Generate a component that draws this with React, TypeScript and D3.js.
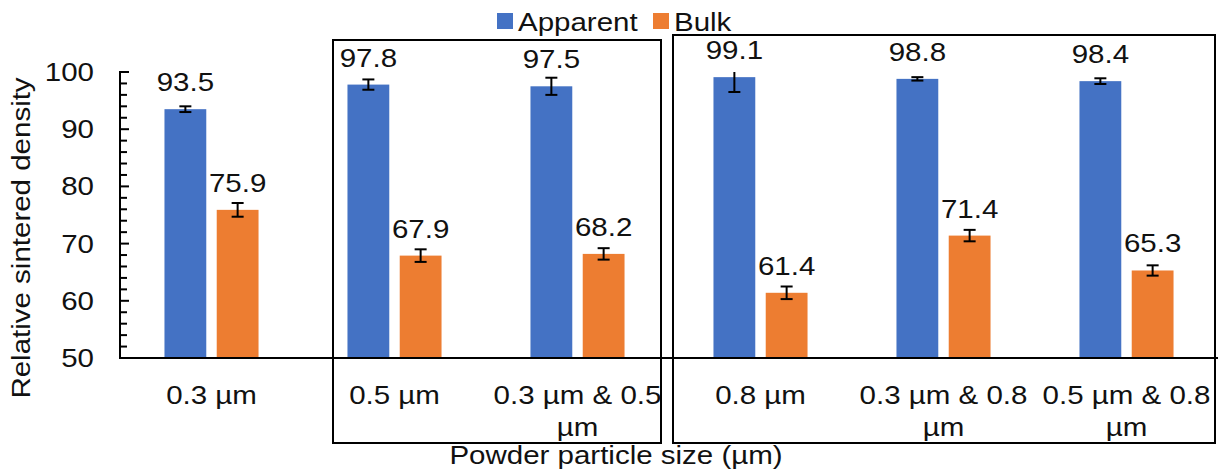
import React from "react";
import * as d3 from "d3";

const categories = ["0.3 µm", "0.5 µm", "0.3 µm & 0.5 µm", "0.8 µm", "0.3 µm & 0.8 µm", "0.5 µm & 0.8 µm"];
const seriesNames = ["Apparent", "Bulk"];
const apparent = [93.5, 97.8, 97.5, 99.1, 98.8, 98.4];
const apparentErr = [0.5, 0.9, 1.5, 2.6, 0.3, 0.5];
const bulk = [75.9, 67.9, 68.2, 61.4, 71.4, 65.3];
const bulkErr = [1.2, 1.1, 1.0, 1.1, 1.0, 0.9];
const yTicks = [50, 60, 70, 80, 90, 100];
const yTitle = "Relative sintered density";
const xTitle = "Powder particle size (µm)";

const W = 1218;
const H = 470;
const COLORS = ["#4472C4", "#ED7D31"];
const FONT = "'Liberation Sans', Arial, sans-serif";
const FS = 25;
const SX = 1.18;
const TXT = "#111";

function wrap(label: string): string[] {
  const words = label.split(" ");
  if (label.length > 10) return [words.slice(0, -1).join(" "), words[words.length - 1]];
  return [label];
}

function T({ x, y, children, anchor = "middle", rotate = 0 }: any) {
  return (
    <text
      transform={`translate(${x},${y}) rotate(${rotate}) scale(${SX},1)`}
      textAnchor={anchor}
      fontFamily={FONT}
      fontSize={FS}
      fill={TXT}
    >
      {children}
    </text>
  );
}

export default function App() {
  const left = 120;
  const right = 1218;
  const top = 72;
  const bottom = 358;

  const y = d3.scaleLinear().domain([50, 100]).range([bottom, top]);
  const x = d3.scaleBand<string>().domain(categories).range([left, right]).paddingInner(0.486).paddingOuter(0.243);
  const sub = d3.scaleBand<string>().domain(seriesNames).range([0, x.bandwidth()]).paddingInner(0.2).paddingOuter(0);
  const step = x.step();
  const minorTicks = d3.range(50, 100.01, 2);

  const series = [
    { name: seriesNames[0], vals: apparent, errs: apparentErr },
    { name: seriesNames[1], vals: bulk, errs: bulkErr },
  ];

  const bandStart = (i: number) => left + i * step;

  const box1 = { x0: bandStart(1) + 30, x1: bandStart(3) - 8, y0: 40, y1: 443 };
  const box2 = { x0: bandStart(3) + 4, x1: right - 3, y0: 35, y1: 443 };

  return (
    <svg width={W} height={H} style={{ position: "absolute", left: 0, top: 0, background: "#fff" }}>
      <rect x={0} y={0} width={W} height={H} fill="#fff" />
      {/* bars */}
      {series.map((s, si) =>
        categories.map((c, ci) => {
          const bx = (x(c) as number) + (sub(s.name) as number);
          const bw = sub.bandwidth();
          const v = s.vals[ci];
          return (
            <rect key={`${si}-${ci}`} x={bx} y={y(v)} width={bw} height={y(50) - y(v)} fill={COLORS[si]} />
          );
        })
      )}
      {/* error bars */}
      {series.map((s, si) =>
        categories.map((c, ci) => {
          const cx = (x(c) as number) + (sub(s.name) as number) + sub.bandwidth() / 2;
          const v = s.vals[ci];
          const e = s.errs[ci];
          const hiV = Math.min(100, v + e);
          const clipped = v + e > 100;
          const yHi = y(hiV);
          const yLo = y(v - e);
          return (
            <g key={`e${si}-${ci}`} stroke="#000" strokeWidth={2}>
              <line x1={cx} x2={cx} y1={yHi} y2={yLo} />
              {!clipped && <line x1={cx - 6} x2={cx + 6} y1={yHi} y2={yHi} />}
              <line x1={cx - 6} x2={cx + 6} y1={yLo} y2={yLo} />
            </g>
          );
        })
      )}
      {/* data labels */}
      {series.map((s, si) =>
        categories.map((c, ci) => {
          const cx = (x(c) as number) + (sub(s.name) as number) + sub.bandwidth() / 2;
          const v = s.vals[ci];
          return (
            <T key={`l${si}-${ci}`} x={cx} y={y(v) - 18}>
              {v.toFixed(1)}
            </T>
          );
        })
      )}
      {/* axes */}
      <line x1={left} x2={right} y1={bottom} y2={bottom} stroke="#000" strokeWidth={2} />
      <line x1={left} x2={left} y1={top - 1} y2={bottom + 1} stroke="#000" strokeWidth={2} />
      {minorTicks.map((t) => {
        const major = Math.abs(t % 10) < 1e-6;
        return (
          <line key={`t${t}`} x1={left} x2={left + (major ? 9 : 7)} y1={y(t)} y2={y(t)} stroke="#000" strokeWidth={2} />
        );
      })}
      {yTicks.map((t) => (
        <T key={`yl${t}`} x={94} y={y(t) + 9} anchor="end">
          {t}
        </T>
      ))}
      {categories.map((c) => {
        const cx = (x(c) as number) + x.bandwidth() / 2;
        return wrap(c).map((line, li) => (
          <T key={`xl${c}${li}`} x={cx} y={404 + li * 32}>
            {line}
          </T>
        ));
      })}
      {/* boxes */}
      {[box1, box2].map((b, i) => (
        <rect key={`b${i}`} x={b.x0} y={b.y0} width={b.x1 - b.x0} height={b.y1 - b.y0} fill="none" stroke="#000" strokeWidth={2} />
      ))}
      {/* titles */}
      <T x={616} y={464}>{xTitle}</T>
      <T x={30} y={238} rotate={-90}>{yTitle}</T>
      {/* legend */}
      {seriesNames.map((n, i) => {
        const lx = i === 0 ? 497 : 653;
        return (
          <g key={`lg${n}`}>
            <rect x={lx} y={13} width={16} height={16} fill={COLORS[i]} />
            <T x={lx + 21} y={31} anchor="start">{n}</T>
          </g>
        );
      })}
    </svg>
  );
}
